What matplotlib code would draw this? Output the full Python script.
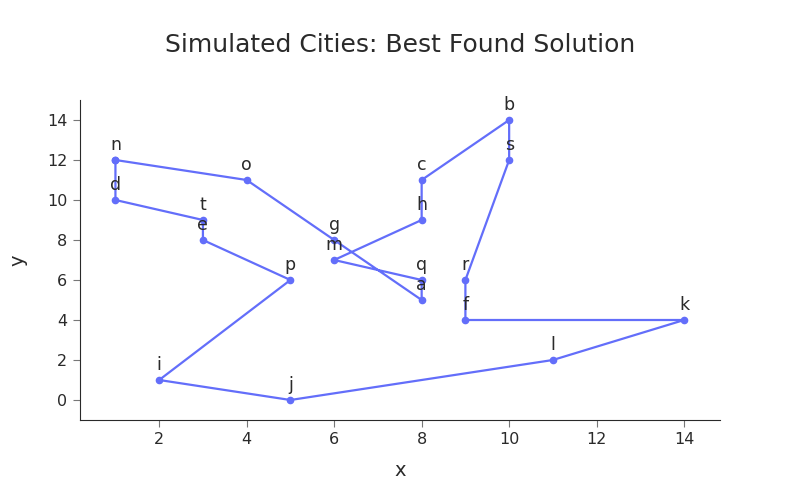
import matplotlib.pyplot as plt

# city coordinates
cities = ['a', 'b', 'c', 'd', 'e', 'f', 'g', 'h', 'i', 'j',
          'k', 'l', 'm', 'n', 'o', 'p', 'q', 'r', 's', 't']
xs = [8, 10, 8, 1, 3, 9, 6, 8, 2, 5, 14, 11, 6, 1, 4, 5, 8, 9, 10, 3]
ys = [5, 14, 11, 10, 8, 4, 8, 9, 1, 0, 4, 2, 7, 12, 11, 6, 6, 6, 12, 9]

# best tour found
tour = ['n', 'o', 'g', 'a', 'q', 'm', 'h', 'c', 'b', 's', 'r', 'f',
        'k', 'l', 'j', 'i', 'p', 'e', 't', 'd', 'n']

pos = {c: (x, y) for c, x, y in zip(cities, xs, ys)}
tx = [pos[c][0] for c in tour]
ty = [pos[c][1] for c in tour]

txt = '#2a2a2a'

fig = plt.figure(figsize=(8, 5), dpi=100)
ax = fig.add_axes([0.1, 0.16, 0.8, 0.64])

col = '#636efa'
ax.plot(tx, ty, color=col, lw=1.6, marker='o', ms=4.5, zorder=2)

for c in tour[:-1]:
    x, y = pos[c]
    ax.annotate(c, (x, y), xytext=(0, 4), textcoords='offset points',
                ha='center', va='bottom', fontsize=12.5, color=txt)

ax.set_xlim(0.19, 14.82)
ax.set_ylim(-1, 15)
ax.set_xticks(range(2, 15, 2))
ax.set_yticks(range(0, 15, 2))
ax.spines['top'].set_visible(False)
ax.spines['right'].set_visible(False)
ax.spines['left'].set_color(txt)
ax.spines['bottom'].set_color(txt)
ax.tick_params(direction='out', length=5, labelsize=11.5, labelcolor=txt,
               color='#777777', pad=4)
ax.set_xlabel('x', fontsize=14, color=txt, labelpad=10)
ax.set_ylabel('y', fontsize=14, color=txt, labelpad=14)
fig.suptitle('Simulated Cities: Best Found Solution', fontsize=18,
             color=txt, y=0.935)

fig.savefig('out.png')
